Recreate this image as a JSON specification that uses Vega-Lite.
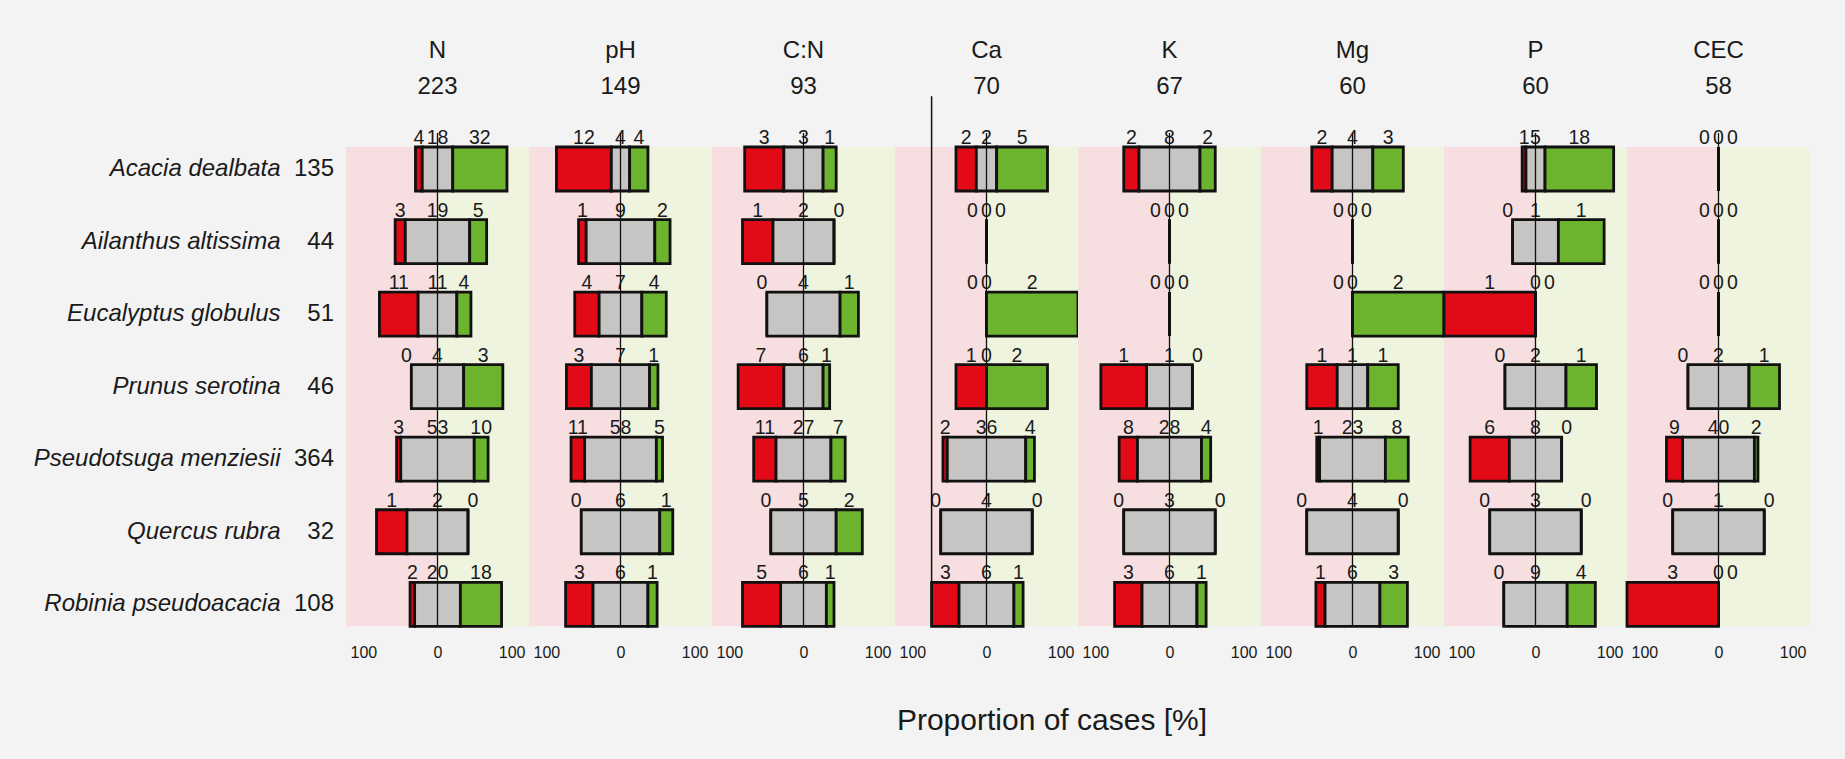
{
  "$schema": "https://vega.github.io/schema/vega-lite/v6.json",
  "background": "#f3f3f3",
  "padding": {"left": 33, "top": 39, "right": 40, "bottom": 30},
  "data": {"values": [
    {"species": "Acacia dealbata", "variable": "N", "dec": 4, "same": 18, "inc": 32},
    {"species": "Acacia dealbata", "variable": "pH", "dec": 12, "same": 4, "inc": 4},
    {"species": "Acacia dealbata", "variable": "C:N", "dec": 3, "same": 3, "inc": 1},
    {"species": "Acacia dealbata", "variable": "Ca", "dec": 2, "same": 2, "inc": 5},
    {"species": "Acacia dealbata", "variable": "K", "dec": 2, "same": 8, "inc": 2},
    {"species": "Acacia dealbata", "variable": "Mg", "dec": 2, "same": 4, "inc": 3},
    {"species": "Acacia dealbata", "variable": "P", "dec": 1, "same": 5, "inc": 18},
    {"species": "Acacia dealbata", "variable": "CEC", "dec": 0, "same": 0, "inc": 0},
    {"species": "Ailanthus altissima", "variable": "N", "dec": 3, "same": 19, "inc": 5},
    {"species": "Ailanthus altissima", "variable": "pH", "dec": 1, "same": 9, "inc": 2},
    {"species": "Ailanthus altissima", "variable": "C:N", "dec": 1, "same": 2, "inc": 0},
    {"species": "Ailanthus altissima", "variable": "Ca", "dec": 0, "same": 0, "inc": 0},
    {"species": "Ailanthus altissima", "variable": "K", "dec": 0, "same": 0, "inc": 0},
    {"species": "Ailanthus altissima", "variable": "Mg", "dec": 0, "same": 0, "inc": 0},
    {"species": "Ailanthus altissima", "variable": "P", "dec": 0, "same": 1, "inc": 1},
    {"species": "Ailanthus altissima", "variable": "CEC", "dec": 0, "same": 0, "inc": 0},
    {"species": "Eucalyptus globulus", "variable": "N", "dec": 11, "same": 11, "inc": 4},
    {"species": "Eucalyptus globulus", "variable": "pH", "dec": 4, "same": 7, "inc": 4},
    {"species": "Eucalyptus globulus", "variable": "C:N", "dec": 0, "same": 4, "inc": 1},
    {"species": "Eucalyptus globulus", "variable": "Ca", "dec": 0, "same": 0, "inc": 2},
    {"species": "Eucalyptus globulus", "variable": "K", "dec": 0, "same": 0, "inc": 0},
    {"species": "Eucalyptus globulus", "variable": "Mg", "dec": 0, "same": 0, "inc": 2},
    {"species": "Eucalyptus globulus", "variable": "P", "dec": 1, "same": 0, "inc": 0},
    {"species": "Eucalyptus globulus", "variable": "CEC", "dec": 0, "same": 0, "inc": 0},
    {"species": "Prunus serotina", "variable": "N", "dec": 0, "same": 4, "inc": 3},
    {"species": "Prunus serotina", "variable": "pH", "dec": 3, "same": 7, "inc": 1},
    {"species": "Prunus serotina", "variable": "C:N", "dec": 7, "same": 6, "inc": 1},
    {"species": "Prunus serotina", "variable": "Ca", "dec": 1, "same": 0, "inc": 2},
    {"species": "Prunus serotina", "variable": "K", "dec": 1, "same": 1, "inc": 0},
    {"species": "Prunus serotina", "variable": "Mg", "dec": 1, "same": 1, "inc": 1},
    {"species": "Prunus serotina", "variable": "P", "dec": 0, "same": 2, "inc": 1},
    {"species": "Prunus serotina", "variable": "CEC", "dec": 0, "same": 2, "inc": 1},
    {"species": "Pseudotsuga menziesii", "variable": "N", "dec": 3, "same": 53, "inc": 10},
    {"species": "Pseudotsuga menziesii", "variable": "pH", "dec": 11, "same": 58, "inc": 5},
    {"species": "Pseudotsuga menziesii", "variable": "C:N", "dec": 11, "same": 27, "inc": 7},
    {"species": "Pseudotsuga menziesii", "variable": "Ca", "dec": 2, "same": 36, "inc": 4},
    {"species": "Pseudotsuga menziesii", "variable": "K", "dec": 8, "same": 28, "inc": 4},
    {"species": "Pseudotsuga menziesii", "variable": "Mg", "dec": 1, "same": 23, "inc": 8},
    {"species": "Pseudotsuga menziesii", "variable": "P", "dec": 6, "same": 8, "inc": 0},
    {"species": "Pseudotsuga menziesii", "variable": "CEC", "dec": 9, "same": 40, "inc": 2},
    {"species": "Quercus rubra", "variable": "N", "dec": 1, "same": 2, "inc": 0},
    {"species": "Quercus rubra", "variable": "pH", "dec": 0, "same": 6, "inc": 1},
    {"species": "Quercus rubra", "variable": "C:N", "dec": 0, "same": 5, "inc": 2},
    {"species": "Quercus rubra", "variable": "Ca", "dec": 0, "same": 4, "inc": 0},
    {"species": "Quercus rubra", "variable": "K", "dec": 0, "same": 3, "inc": 0},
    {"species": "Quercus rubra", "variable": "Mg", "dec": 0, "same": 4, "inc": 0},
    {"species": "Quercus rubra", "variable": "P", "dec": 0, "same": 3, "inc": 0},
    {"species": "Quercus rubra", "variable": "CEC", "dec": 0, "same": 1, "inc": 0},
    {"species": "Robinia pseudoacacia", "variable": "N", "dec": 2, "same": 20, "inc": 18},
    {"species": "Robinia pseudoacacia", "variable": "pH", "dec": 3, "same": 6, "inc": 1},
    {"species": "Robinia pseudoacacia", "variable": "C:N", "dec": 5, "same": 6, "inc": 1},
    {"species": "Robinia pseudoacacia", "variable": "Ca", "dec": 3, "same": 6, "inc": 1},
    {"species": "Robinia pseudoacacia", "variable": "K", "dec": 3, "same": 6, "inc": 1},
    {"species": "Robinia pseudoacacia", "variable": "Mg", "dec": 1, "same": 6, "inc": 3},
    {"species": "Robinia pseudoacacia", "variable": "P", "dec": 0, "same": 9, "inc": 4},
    {"species": "Robinia pseudoacacia", "variable": "CEC", "dec": 3, "same": 0, "inc": 0}
  ]},
  "transform": [
    {"fold": ["dec", "same", "inc"], "as": ["change", "count"]},
    {"joinaggregate": [{"op": "sum", "field": "count", "as": "cell_total"}], "groupby": ["species", "variable"]},
    {"joinaggregate": [{"op": "sum", "field": "count", "as": "row_total"}], "groupby": ["species"]},
    {"joinaggregate": [{"op": "sum", "field": "count", "as": "col_total"}], "groupby": ["variable"]},
    {"calculate": "datum.cell_total > 0 ? 100 * datum.count / datum.cell_total : 0", "as": "pct"},
    {"calculate": "datum.change == 'same' ? datum.pct : 0", "as": "same_pct"},
    {"calculate": "datum.change == 'same' ? datum.count : 0", "as": "same_n"},
    {"joinaggregate": [{"op": "sum", "field": "same_pct", "as": "g"}, {"op": "sum", "field": "same_n", "as": "gn"}], "groupby": ["species", "variable"]},
    {"calculate": "datum.change == 'dec' ? -datum.g / 2 - datum.pct : (datum.change == 'same' ? -datum.g / 2 : datum.g / 2)", "as": "x0"},
    {"calculate": "datum.x0 + datum.pct", "as": "x1"},
    {"calculate": "(datum.x0 + datum.x1) / 2", "as": "mid"},
    {"calculate": "datum.variable + '|' + datum.col_total", "as": "header"},
    {"calculate": "indexof(['N', 'pH', 'C:N', 'Ca', 'K', 'Mg', 'P', 'CEC'], datum.variable)", "as": "ord"}
  ],
  "facet": {
    "column": {
      "field": "header",
      "type": "nominal",
      "sort": {"field": "ord", "op": "min"},
      "title": "Proportion of cases [%]",
      "header": {
        "labelExpr": "split(datum.value, '|')",
        "labelFontSize": 24,
        "labelFont": "Liberation Sans",
        "labelColor": "#1a1a1a",
        "labelLineHeight": 36,
        "labelPadding": 48,
        "labelOrient": "top",
        "titleOrient": "bottom",
        "titleFontSize": 30,
        "titleFont": "Liberation Sans",
        "titleFontWeight": "normal",
        "titleColor": "#1a1a1a",
        "titlePadding": 36
      }
    }
  },
  "spacing": 0,
  "bounds": "flush",
  "spec": {
    "width": 183,
    "height": 479.3,
    "layer": [
      {
        "transform": [{"filter": "datum.species == 'Acacia dealbata' && datum.change == 'same'"}],
        "mark": {"type": "rect", "color": "#f7dfe1"},
        "encoding": {
          "x": {"datum": -100, "type": "quantitative", "title": null},
          "x2": {"datum": 0}
        }
      },
      {
        "transform": [{"filter": "datum.species == 'Acacia dealbata' && datum.change == 'same'"}],
        "mark": {"type": "rect", "color": "#eff4df"},
        "encoding": {
          "x": {"datum": 0, "type": "quantitative", "title": null},
          "x2": {"datum": 100}
        }
      },
      {
        "mark": {"type": "rect", "stroke": "#111111", "strokeWidth": 2.8},
        "encoding": {
          "x": {
            "field": "x0", "type": "quantitative", "title": null,
            "scale": {"domain": [-100, 100], "nice": false, "zero": false},
            "axis": {
              "title": null, "values": [-100, 0, 100],
              "labelExpr": "datum.value == 0 ? '0' : '100'",
              "labelFlush": true, "labelFlushOffset": -4, "domain": false, "ticks": false, "grid": false,
              "labelFontSize": 16, "labelPadding": 17, "labelColor": "#1a1a1a", "labelFont": "Liberation Sans"
            }
          },
          "x2": {"field": "x1"},
          "y": {
            "field": "species", "type": "nominal", "title": null,
            "scale": {"paddingInner": 0.3935, "paddingOuter": 0},
            "axis": {
              "title": null, "domain": false, "ticks": false, "grid": false,
              "labelFontSize": 24, "labelFontStyle": "italic", "labelPadding": 66,
              "labelColor": "#1a1a1a", "labelFont": "Liberation Sans", "labelLimit": 400
            }
          },
          "fill": {
            "field": "change", "type": "nominal", "legend": null,
            "scale": {"domain": ["dec", "same", "inc"], "range": ["#e30a17", "#c6c5c3", "#6cb42e"]}
          }
        }
      },
      {
        "transform": [{"filter": "datum.count > 0 || datum.change == 'same'"}],
        "mark": {"type": "text", "baseline": "alphabetic", "dy": -3, "fontSize": 19.5, "font": "Liberation Sans", "color": "#1a1a1a"},
        "encoding": {
          "x": {"field": "mid", "type": "quantitative", "title": null},
          "y": {"field": "species", "type": "nominal", "bandPosition": 0, "title": null},
          "text": {"field": "count", "type": "quantitative"}
        }
      },
      {
        "transform": [{"filter": "datum.change == 'dec' && datum.count == 0 && datum.gn > 0"}],
        "mark": {"type": "text", "baseline": "alphabetic", "dy": -3, "dx": -5, "fontSize": 19.5, "font": "Liberation Sans", "color": "#1a1a1a"},
        "encoding": {
          "x": {"field": "mid", "type": "quantitative", "title": null},
          "y": {"field": "species", "type": "nominal", "bandPosition": 0, "title": null},
          "text": {"field": "count", "type": "quantitative"}
        }
      },
      {
        "transform": [{"filter": "datum.change == 'dec' && datum.count == 0 && datum.gn == 0"}],
        "mark": {"type": "text", "baseline": "alphabetic", "dy": -3, "dx": -14, "fontSize": 19.5, "font": "Liberation Sans", "color": "#1a1a1a"},
        "encoding": {
          "x": {"field": "mid", "type": "quantitative", "title": null},
          "y": {"field": "species", "type": "nominal", "bandPosition": 0, "title": null},
          "text": {"field": "count", "type": "quantitative"}
        }
      },
      {
        "transform": [{"filter": "datum.change == 'inc' && datum.count == 0 && datum.gn > 0"}],
        "mark": {"type": "text", "baseline": "alphabetic", "dy": -3, "dx": 5, "fontSize": 19.5, "font": "Liberation Sans", "color": "#1a1a1a"},
        "encoding": {
          "x": {"field": "mid", "type": "quantitative", "title": null},
          "y": {"field": "species", "type": "nominal", "bandPosition": 0, "title": null},
          "text": {"field": "count", "type": "quantitative"}
        }
      },
      {
        "transform": [{"filter": "datum.change == 'inc' && datum.count == 0 && datum.gn == 0"}],
        "mark": {"type": "text", "baseline": "alphabetic", "dy": -3, "dx": 14, "fontSize": 19.5, "font": "Liberation Sans", "color": "#1a1a1a"},
        "encoding": {
          "x": {"field": "mid", "type": "quantitative", "title": null},
          "y": {"field": "species", "type": "nominal", "bandPosition": 0, "title": null},
          "text": {"field": "count", "type": "quantitative"}
        }
      },
      {
        "transform": [{"filter": "datum.species == 'Acacia dealbata' && datum.change == 'same'"}],
        "mark": {"type": "rule", "color": "#111111", "strokeWidth": 1.3, "yOffset": -14, "y2Offset": 14.7},
        "encoding": {
          "x": {"datum": 0, "type": "quantitative", "title": null}
        }
      },
      {
        "transform": [{"filter": "datum.variable == 'Ca' && datum.species == 'Robinia pseudoacacia' && datum.change == 'dec'"}],
        "mark": {"type": "rule", "color": "#111111", "strokeWidth": 1.5, "yOffset": -50.7, "y2Offset": -22},
        "encoding": {
          "x": {"field": "x0", "type": "quantitative", "title": null}
        }
      },
      {
        "transform": [{"filter": "datum.variable == 'N' && datum.change == 'same'"}],
        "mark": {"type": "text", "align": "right", "baseline": "middle", "dx": -12, "fontSize": 24, "font": "Liberation Sans", "color": "#1a1a1a"},
        "encoding": {
          "x": {"datum": -100, "type": "quantitative", "title": null},
          "y": {"field": "species", "type": "nominal", "title": null},
          "text": {"field": "row_total", "type": "quantitative"}
        }
      }
    ]
  },
  "config": {
    "view": {"stroke": null},
    "font": "Liberation Sans"
  }
}
